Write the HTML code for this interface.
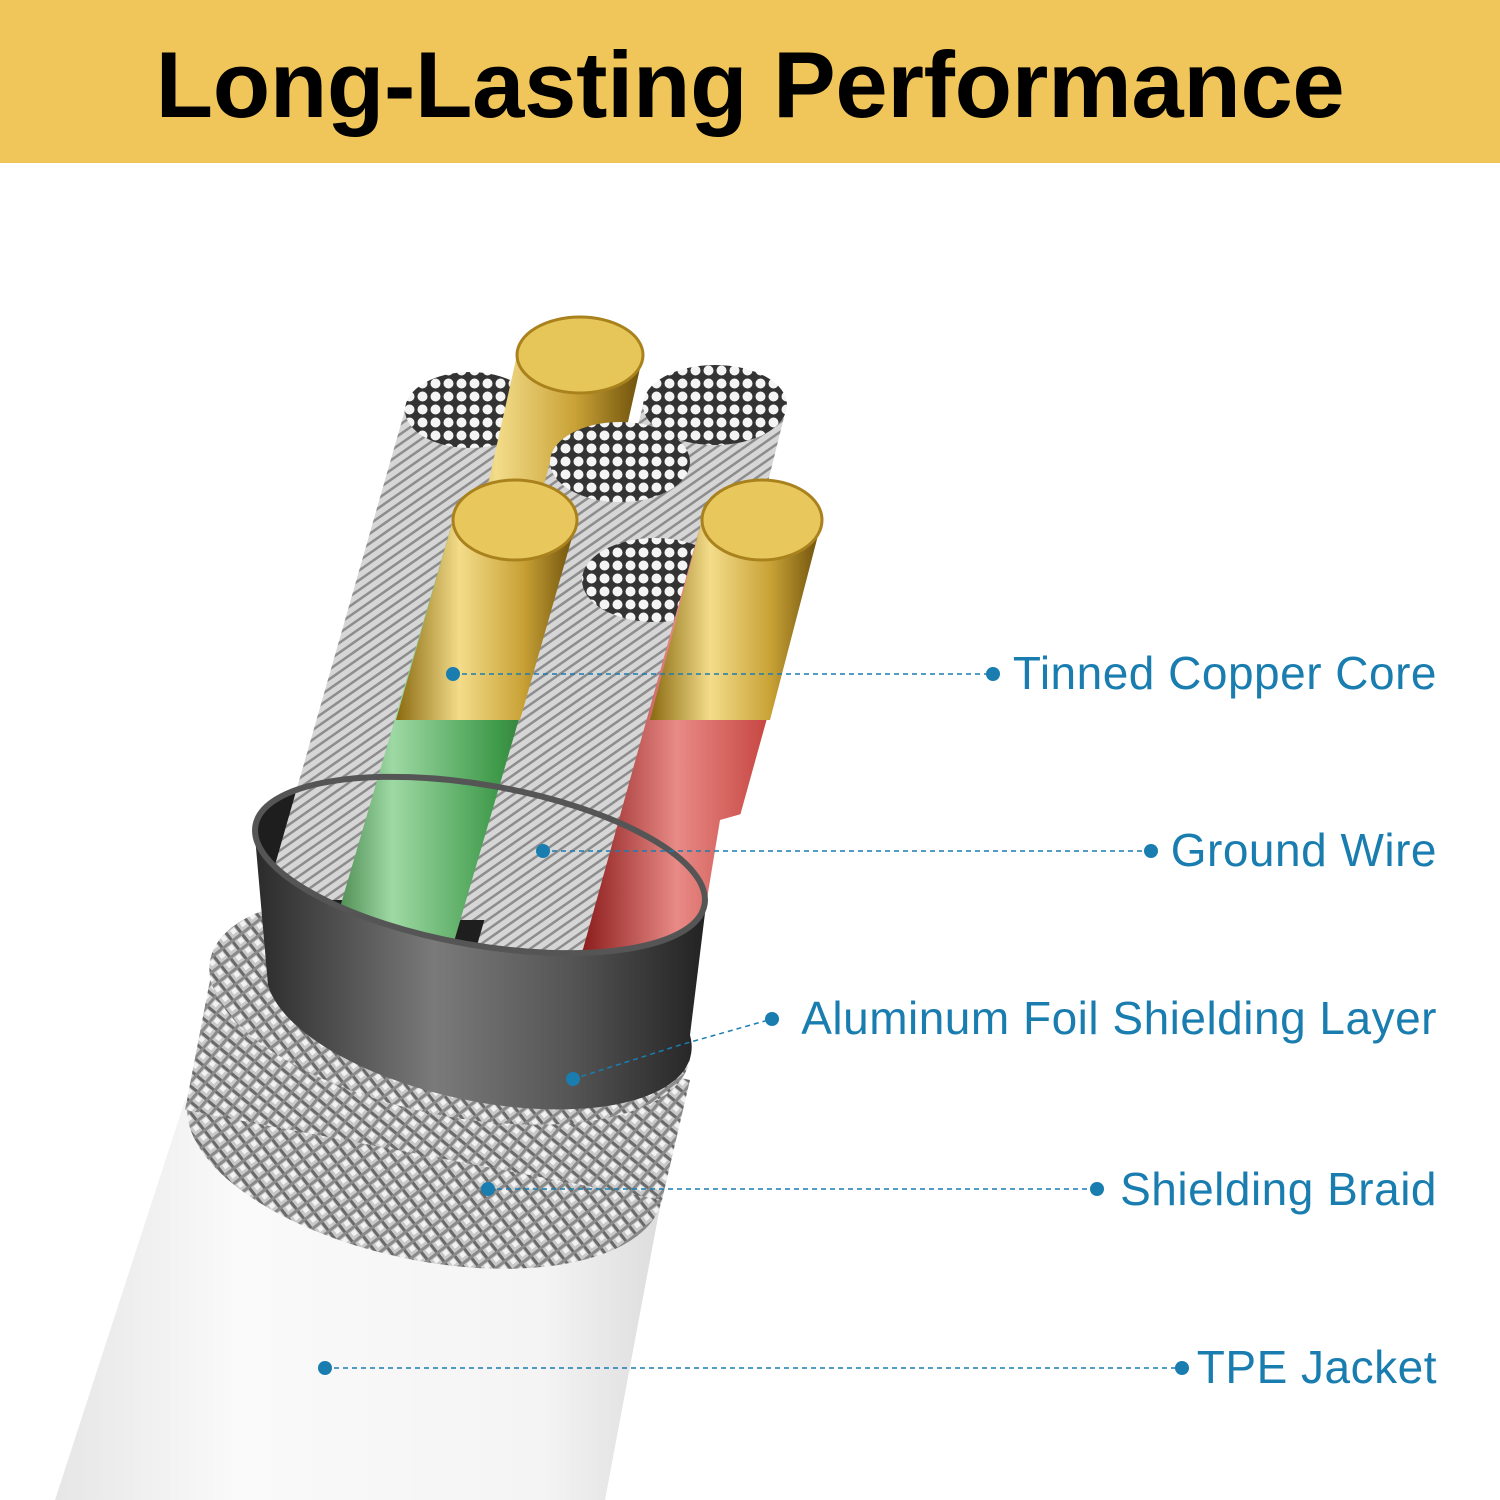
<!DOCTYPE html>
<html><head><style>
html,body{margin:0;padding:0;width:1500px;height:1500px;background:#fff;overflow:hidden;font-family:"Liberation Sans",sans-serif}
.hdr{position:absolute;left:0;top:0;width:1500px;height:163px;background:#F0C55A}
.hdr div{position:absolute;left:0;width:1500px;top:31px;text-align:center;font-weight:bold;font-size:94px;color:#000;letter-spacing:-0.3px}
.lbl{position:absolute;right:63px;color:#1a7db0;font-size:46px;white-space:nowrap;letter-spacing:0.5px}
</style></head><body>
<div class="hdr"><div>Long-Lasting Performance</div></div>
<svg width="1500" height="1500" style="position:absolute;left:0;top:0">
<defs>
<linearGradient id="jk" x1="0" x2="1" y1="0" y2="0"><stop offset="0" stop-color="#e6e6e6"/><stop offset="0.3" stop-color="#fafafa"/><stop offset="0.8" stop-color="#f4f4f4"/><stop offset="1" stop-color="#dcdcdc"/></linearGradient>
<linearGradient id="gold" x1="0" x2="1"><stop offset="0" stop-color="#8a6a10"/><stop offset="0.35" stop-color="#f3dc8a"/><stop offset="0.7" stop-color="#c9a236"/><stop offset="1" stop-color="#6b4e0a"/></linearGradient>
<linearGradient id="green" x1="0" x2="1"><stop offset="0" stop-color="#2a6a2e"/><stop offset="0.3" stop-color="#9ed9a4"/><stop offset="0.7" stop-color="#3f9a4a"/><stop offset="1" stop-color="#1f4f22"/></linearGradient>
<linearGradient id="red" x1="0" x2="1"><stop offset="0" stop-color="#8a1a1a"/><stop offset="0.4" stop-color="#e88a86"/><stop offset="0.8" stop-color="#c5423d"/><stop offset="1" stop-color="#7a1414"/></linearGradient>
<linearGradient id="foil" x1="0" x2="1"><stop offset="0" stop-color="#2a2a2a"/><stop offset="0.4" stop-color="#7a7a7a"/><stop offset="0.7" stop-color="#555"/><stop offset="1" stop-color="#222"/></linearGradient>
<pattern id="braid" width="12" height="12" patternUnits="userSpaceOnUse" patternTransform="rotate(40)">
<rect width="12" height="12" fill="#c8c8c8"/><rect width="12" height="3" fill="#6a6a6a"/><rect width="3" height="12" fill="#8a8a8a"/><rect x="4" y="4" width="5" height="5" fill="#f2f2f2"/></pattern>
<pattern id="strand" width="8" height="8" patternUnits="userSpaceOnUse" patternTransform="rotate(-35)">
<rect width="8" height="8" fill="#d6d6d6"/><rect width="8" height="2.5" fill="#8d8d8d"/></pattern>
<pattern id="ends" width="13" height="13" patternUnits="userSpaceOnUse">
<rect width="13" height="13" fill="#333"/><circle cx="6.5" cy="6.5" r="5" fill="#f4f4f4"/></pattern>
<clipPath id="cl"><ellipse cx="480" cy="865" rx="228" ry="80" transform="rotate(10 480 865)"/><polygon points="0,0 1500,0 1500,600 720,820 706,905 254,825 0,780"/></clipPath>
</defs>
<polygon points="185,1100 665,1180 605,1500 55,1500" fill="url(#jk)"/>
<ellipse cx="425" cy="1150" rx="242" ry="110" transform="rotate(12 425 1150)" fill="url(#braid)"/>
<polygon points="210,980 690,1080 662,1200 185,1110" fill="url(#braid)"/>
<ellipse cx="450" cy="1010" rx="245" ry="105" transform="rotate(12 450 1010)" fill="url(#braid)"/>
<ellipse cx="480" cy="865" rx="228" ry="80" transform="rotate(10 480 865)" fill="#1e1e1e"/>
<g clip-path="url(#cl)">
<polygon points="405,410 535,410 395,900 265,900" fill="url(#strand)"/>
<ellipse cx="470" cy="410" rx="65" ry="38" fill="url(#ends)"/>
<polygon points="517,355 643,355 543,800 417,800" fill="url(#gold)"/>
<ellipse cx="580" cy="355" rx="63" ry="38" fill="#e6c659" stroke="#a9821e" stroke-width="3"/>
<polygon points="643,405 787,405 672,870 528,870" fill="url(#strand)"/>
<ellipse cx="715" cy="405" rx="72" ry="40" fill="url(#ends)"/>
<polygon points="550,462 690,462 570,920 430,920" fill="url(#strand)"/>
<ellipse cx="620" cy="462" rx="70" ry="40" fill="url(#ends)"/>
<polygon points="453,520 577,520 437,1000 313,1000" fill="url(#green)"/>
<polygon points="453,520 577,520 520,720 396,720" fill="url(#gold)"/>
<ellipse cx="515" cy="520" rx="62" ry="40" fill="#e8c85c" stroke="#a9821e" stroke-width="3"/>
<polygon points="582,580 728,580 593,1050 447,1050" fill="url(#strand)"/>
<ellipse cx="655" cy="580" rx="73" ry="42" fill="url(#ends)"/>
<polygon points="702,520 822,520 700,960 580,960" fill="url(#red)"/>
<polygon points="702,520 822,520 770,720 650,720" fill="url(#gold)"/>
<ellipse cx="762" cy="520" rx="60" ry="40" fill="#e8c85c" stroke="#a9821e" stroke-width="3"/>
</g>
<path d="M254,825 A228,80 10 0 0 706,905 L690,1035 A215,90 12 0 1 268,985 Z" fill="url(#foil)"/>
<ellipse cx="480" cy="865" rx="228" ry="80" transform="rotate(10 480 865)" fill="none" stroke="#555" stroke-width="6"/>
<g stroke="#1a7db0" stroke-width="1.5" stroke-dasharray="5,4" fill="none">
<line x1="453" y1="674" x2="993" y2="674"/>
<line x1="543" y1="851" x2="1151" y2="851"/>
<polyline points="573,1079 680,1045 772,1019"/>
<line x1="488" y1="1189" x2="1097" y2="1189"/>
<line x1="325" y1="1368" x2="1182" y2="1368"/>
</g>
<g fill="#1a7db0">
<circle cx="453" cy="674" r="7"/><circle cx="993" cy="674" r="7"/>
<circle cx="543" cy="851" r="7"/><circle cx="1151" cy="851" r="7"/>
<circle cx="573" cy="1079" r="7"/><circle cx="772" cy="1019" r="7"/>
<circle cx="488" cy="1189" r="7"/><circle cx="1097" cy="1189" r="7"/>
<circle cx="325" cy="1368" r="7"/><circle cx="1182" cy="1368" r="7"/>
</g>
</svg>
<div class="lbl" style="top:646px">Tinned Copper Core</div>
<div class="lbl" style="top:823px">Ground Wire</div>
<div class="lbl" style="top:991px">Aluminum Foil Shielding Layer</div>
<div class="lbl" style="top:1162px">Shielding Braid</div>
<div class="lbl" style="top:1340px">TPE Jacket</div>
</body></html>
